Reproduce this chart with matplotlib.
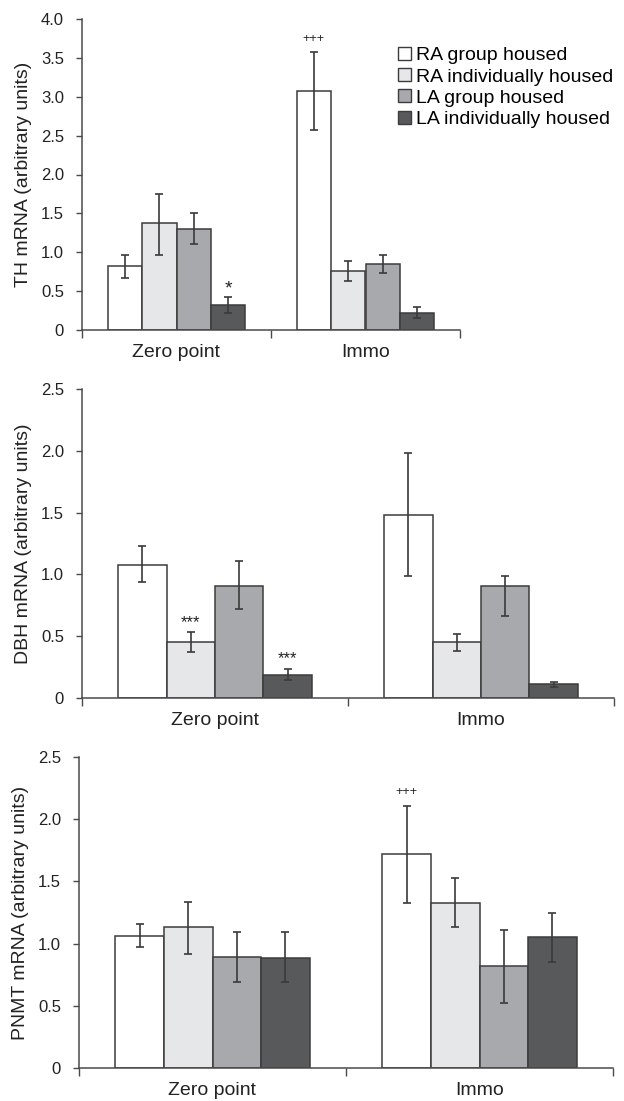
import matplotlib
matplotlib.use("Agg")
import matplotlib.pyplot as plt
from matplotlib.patches import Patch
import numpy as np

plt.rcParams['font.family'] = ['Liberation Sans', 'DejaVu Sans']

categories = ["Zero point", "Immo"]
groups = ["RA group housed", "RA individually housed", "LA group housed", "LA individually housed"]
colors = ["#ffffff", "#e6e7e8", "#a7a9ac", "#58595b"]

# values: [group][category]; errors given as (lower, upper)
th_vals = [[0.82, 3.07], [1.37, 0.76], [1.30, 0.85], [0.32, 0.22]]
th_err_lo = [[0.15, 0.50], [0.40, 0.13], [0.19, 0.12], [0.10, 0.07]]
th_err_hi = [[0.15, 0.50], [0.38, 0.13], [0.20, 0.12], [0.10, 0.07]]

dbh_vals = [[1.08, 1.48], [0.45, 0.45], [0.91, 0.905], [0.19, 0.11]]
dbh_err_lo = [[0.14, 0.49], [0.08, 0.07], [0.19, 0.24], [0.045, 0.02]]
dbh_err_hi = [[0.15, 0.50], [0.08, 0.07], [0.20, 0.085], [0.045, 0.02]]

pnmt_vals = [[1.065, 1.72], [1.135, 1.33], [0.89, 0.82], [0.885, 1.05]]
pnmt_err_lo = [[0.095, 0.39], [0.22, 0.20], [0.20, 0.30], [0.19, 0.195]]
pnmt_err_hi = [[0.095, 0.39], [0.20, 0.20], [0.20, 0.29], [0.21, 0.195]]

# annotations: (group index, category index, text, size, gap)
th_ann = [(3, 0, "*", 14, 0.0), (0, 1, "+++", 9, 0.10)]
dbh_ann = [(1, 0, "***", 12, 0.02), (3, 0, "***", 12, 0.02)]
pnmt_ann = [(0, 1, "+++", 9, 0.06)]

EDGE = "#3c3c3c"
AXC = "#4a4a4a"
TXT = "#222222"
W = 0.182

def panel(rect, vals, elo, ehi, ymax, ylabel, anns):
    ax = fig.add_axes(rect)
    x = np.arange(len(categories))
    for i in range(4):
        pos = x + (i - 1.5) * W
        ax.bar(pos, vals[i], W, color=colors[i], edgecolor=EDGE, linewidth=1.1,
               yerr=[elo[i], ehi[i]], capsize=2.8,
               error_kw=dict(ecolor="#3a3a3a", elinewidth=1.2, capthick=1.2),
               zorder=2)
    for gi, ci, txt, sz, gap in anns:
        xx = ci + (gi - 1.5) * W
        top = vals[gi][ci] + ehi[gi][ci]
        ax.text(xx, top + gap, txt, ha="center", va="bottom", fontsize=sz, color=TXT)
    ax.set_xlim(-0.5, 1.5)
    ax.set_ylim(0, ymax)
    yt = np.arange(0, ymax + 0.01, 0.5)
    ax.set_yticks(yt)
    ax.set_yticklabels(["0" if v == 0 else f"{v:.1f}" for v in yt], fontsize=12, color=TXT)
    ax.set_xticks(x)
    ax.set_xticklabels(categories, fontsize=14, color=TXT)
    ax.tick_params(axis="x", which="major", length=0, pad=10)
    ax.set_xticks([-0.5, 0.5, 1.5], minor=True)
    ax.tick_params(axis="x", which="minor", length=6, width=1, color=AXC, direction="out")
    ax.tick_params(axis="y", length=4.5, width=1, color=AXC, pad=8.5)
    for s in ["top", "right"]:
        ax.spines[s].set_visible(False)
    for s in ["left", "bottom"]:
        ax.spines[s].set_color(AXC)
        ax.spines[s].set_linewidth(1.1)
    ax.set_ylabel(ylabel, fontsize=14, color=TXT, labelpad=6)
    return ax

fig = plt.figure(figsize=(6.24, 11.01), dpi=100)

ax1 = panel([82/624, 1 - 330/1101, 378/624, 311/1101], th_vals, th_err_lo, th_err_hi, 4.0,
            "TH mRNA (arbitrary units)", th_ann)
ax2 = panel([82/624, 1 - 698/1101, 532/624, 309/1101], dbh_vals, dbh_err_lo, dbh_err_hi, 2.5,
            "DBH mRNA (arbitrary units)", dbh_ann)
ax3 = panel([79/624, 1 - 1068/1101, 534/624, 311/1101], pnmt_vals, pnmt_err_lo, pnmt_err_hi, 2.5,
            "PNMT mRNA (arbitrary units)", pnmt_ann)

handles = [Patch(facecolor=c, edgecolor=EDGE, linewidth=1.0) for c in colors]
fig.legend(handles, groups, loc="upper left", bbox_to_anchor=(398/624, 1 - 47/1101),
           frameon=False, fontsize=14, handlelength=0.65, handleheight=0.65,
           handletextpad=0.3, labelspacing=0.2, borderpad=0, borderaxespad=0)

fig.savefig("out.png", dpi=100)
